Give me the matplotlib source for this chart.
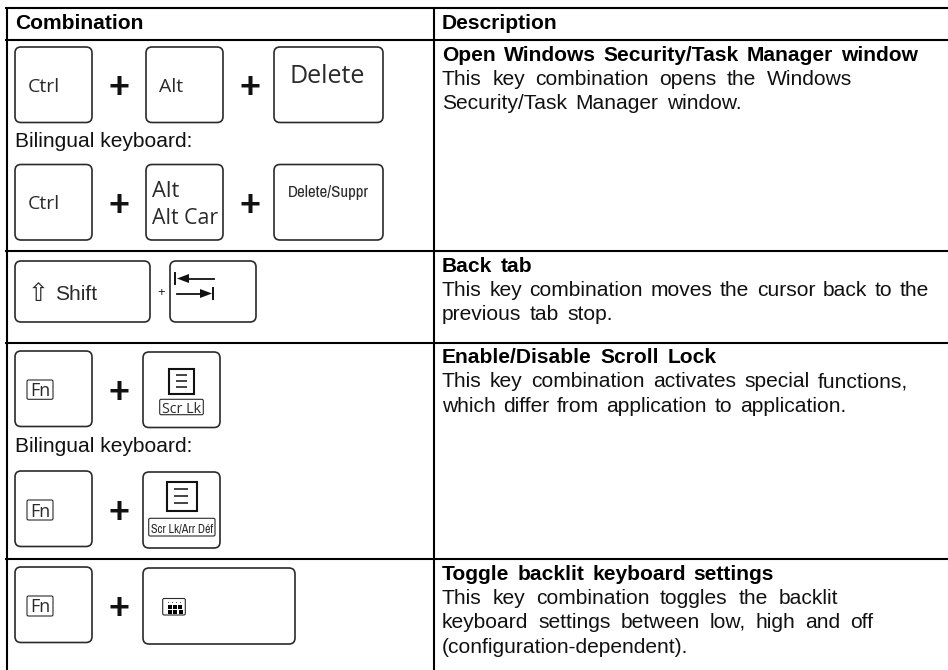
import matplotlib
matplotlib.use("Agg")
import matplotlib.pyplot as plt
from matplotlib.patches import FancyBboxPatch, Rectangle
from matplotlib import font_manager as fm

W, H = 948, 670
DPI = 100
PX = 72 / DPI

# ---- table content ----
HEADERS = ["Combination", "Description"]
BILINGUAL = "Bilingual keyboard:"
DESC_TITLES = ["Open Windows Security/Task Manager window", "Back tab",
               "Enable/Disable Scroll Lock", "Toggle backlit keyboard settings"]
DESC_BODIES = [
    ["This key combination opens the Windows", "Security/Task Manager window."],
    ["This key combination moves the cursor back to the", "previous tab stop."],
    ["This key combination activates special functions,", "which differ from application to application."],
    ["This key combination toggles the backlit", "keyboard settings between low, high and off", "(configuration-dependent)."],
]

# ---- layout (pixels) ----
ROW_Y = [8, 39.5, 250.5, 343, 559]
COL_X = [7, 434]
DESC_X = 442
TITLE_BASE = [60.7, 271.7, 363, 580]
TITLE_END = [918, 532, 717, 774]
BODY_BASE = [[85, 109], [296, 320], [387, 411.7], [604, 628, 652.7]]
BODY_END = [[852, 742], [929, 613], [908, 846], [838, 873, 690]]
BILINGUAL_BASE = [146.7, 452]
INK = "#111111"
KEY = "#2a2a2a"
SANS = ["Liberation Sans", "DejaVu Sans"]
OPEN = ["Open Sans", "DejaVu Sans"]
have = sorted({f.name for f in fm.fontManager.ttflist})
narrow_names = [n for n in have if "Narrow" in n or "Condensed" in n]
NARROW = narrow_names[:1] + SANS

fig = plt.figure(figsize=(W / DPI, H / DPI), dpi=DPI, facecolor="white")
ax = fig.add_axes([0, 0, 1, 1])
ax.set_xlim(0, W)
ax.set_ylim(H, 0)
ax.axis("off")
rend = fig.canvas.get_renderer()


def label(x, y, s, px, fam=SANS, **kw):
    kw.setdefault("color", INK)
    return ax.text(x, y, s, fontsize=px * PX, family=fam, va="baseline", **kw)


def fitted(s, x0, x1, y, px, fam, **kw):
    """Text at its size, shrunk only when it would pass x1."""
    t = label(x0, y, s, px, fam, **kw)
    w = t.get_window_extent(rend).width
    if w > x1 - x0:
        t.set_fontsize(px * PX * (x1 - x0) / w)
    return t


def justified(s, x0, x1, y, px, **kw):
    words = s.split(" ")
    arts = [label(x0, y, w, px, **kw) for w in words]
    if len(arts) == 1:
        return
    ws = [a.get_window_extent(rend).width for a in arts]
    gap = (x1 - x0 - sum(ws)) / (len(ws) - 1)
    x = x0
    for a, w in zip(arts, ws):
        a.set_x(x)
        x += w + gap


def key(x0, y0, x1, y1):
    ax.add_patch(FancyBboxPatch((x0, y0), x1 - x0, y1 - y0,
                                boxstyle="round,pad=0,rounding_size=6",
                                fc="white", ec=KEY, lw=1.2))


def small_box(x0, y0, x1, y1):
    ax.add_patch(FancyBboxPatch((x0, y0), x1 - x0, y1 - y0,
                                boxstyle="round,pad=0,rounding_size=1.5",
                                fc="white", ec=KEY, lw=0.8))


def plus(cx, cy, px=36, weight="bold"):
    label(cx, cy + 0.35 * px, "+", px, ha="center", weight=weight)


# ---- grid ----
for y in ROW_Y:
    ax.plot([5, W], [y, y], color="black", lw=1.5, solid_capstyle="butt")
for x in COL_X:
    ax.plot([x, x], [7, H], color="black", lw=1.5, solid_capstyle="butt")

# ---- description column ----
label(15, 29, HEADERS[0], 21, weight="bold", color="black")
label(DESC_X, 29, HEADERS[1], 21, weight="bold", color="black")
for i, title in enumerate(DESC_TITLES):
    justified(title, DESC_X, TITLE_END[i], TITLE_BASE[i], 21, weight="bold", color="black")
    for line, base, end in zip(DESC_BODIES[i], BODY_BASE[i], BODY_END[i]):
        justified(line, DESC_X, end, base, 21)
for base in BILINGUAL_BASE:
    label(15, base, BILINGUAL, 21)

# ---- row 1 keys ----
for top, base in ((47, 91.7), (164.5, 209)):
    key(15, top, 92, top + 75.5)
    key(146, top, 223, top + 75.5)
    key(274, top, 383, top + 75.5)
    label(27.5, base, "Ctrl", 19.5, OPEN, color=KEY)
    plus(119, top + 38.7)
    plus(249.6, top + 38.7)
label(159, 91.7, "Alt", 19.5, OPEN, color=KEY)
label(290, 82.7, "Delete", 25, OPEN, color=KEY)
label(152, 196.7, "Alt", 22, OPEN, color=KEY)
fitted("Alt Car", 152, 218, 224, 22, OPEN, color=KEY)
fitted("Delete/Suppr", 288, 369, 197, 20, NARROW, color=KEY)

# ---- row 2 keys ----
key(15, 261, 150, 322)
key(170, 261, 256, 322)
label(27.5, 301, "\u21e7", 25, ["DejaVu Sans"], color=KEY)
label(55, 300, "Shift", 21, color=KEY)
plus(161.3, 291.7, px=13, weight="normal")
ax.plot([175.5, 175.5], [273, 284], color=INK, lw=1.4)
ax.plot([186, 214], [278.5, 278.5], color=INK, lw=1.3)
ax.fill([177, 189, 189], [278.5, 274, 283], color=INK, lw=0)
ax.plot([177, 204], [293.5, 293.5], color=INK, lw=1.3)
ax.fill([212, 200, 200], [293.5, 289, 298], color=INK, lw=0)
ax.plot([213, 213], [288, 299], color=INK, lw=1.4)

# ---- row 3 and 4 keys ----
for top, bx0, bx1, base, py in ((351, 380, 399.3, 396, 390),
                                (471, 500, 520, 516.7, 510),
                                (567, 596, 616, 612, 606)):
    key(15, top, 92, top + 75.5)
    small_box(27, bx0, 53, bx1)
    label(30, base, "Fn", 18, OPEN, color=KEY)
    plus(119, py)

key(143, 352, 220, 427.5)
ax.add_patch(Rectangle((169.3, 369.3), 24.7, 24.7, fc="white", ec=INK, lw=1.5))
for y in (375, 381, 386.7):
    ax.plot([176, 187], [y, y], color=INK, lw=1.1, solid_capstyle="butt")
small_box(159.7, 399.3, 203.3, 414.7)
fitted("Scr Lk", 162, 201, 412.7, 14.5, OPEN, color=KEY)

key(143, 472, 220, 548)
ax.add_patch(Rectangle((167, 481.7), 30, 29, fc="white", ec=INK, lw=1.5))
for y in (489, 496, 502.7):
    ax.plot([174.3, 188], [y, y], color=INK, lw=1.1, solid_capstyle="butt")
small_box(148.7, 518.3, 215, 536)
fitted("Scr Lk/Arr D\u00e9f", 151, 213, 532.7, 13, NARROW, color=KEY)

key(143, 568, 295, 644)
small_box(162.7, 598.5, 185.3, 615)
for row_y, xs in ((604.5, (168, 173, 178)), (610, (168, 173.5, 179))):
    for x in xs:
        ax.add_patch(Rectangle((x, row_y), 4, 4, fc="black", ec="none"))
for x in (168.5, 172.5, 176.5, 180.5):
    ax.add_patch(Rectangle((x, 601.5), 1, 1, fc="#555555", ec="none"))

fig.savefig("out.png", dpi=DPI, facecolor="white")
